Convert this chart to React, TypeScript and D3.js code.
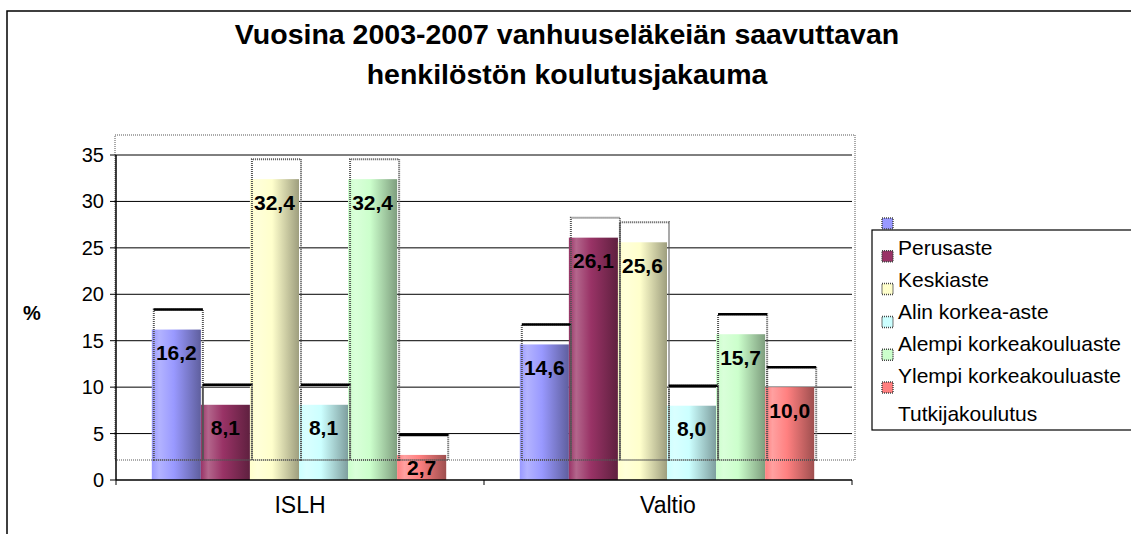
import React from "react";
import * as d3 from "d3";

// chart values
const categories = ["ISLH", "Valtio"];
const seriesNames = [
  "Perusaste",
  "Keskiaste",
  "Alin korkea-aste",
  "Alempi korkeakouluaste",
  "Ylempi korkeakouluaste",
  "Tutkijakoulutus",
];
const islhValues = [16.2, 8.1, 32.4, 8.1, 32.4, 2.7];
const valtioValues = [14.6, 26.1, 25.6, 8.0, 15.7, 10.0];
const seriesColors = ["#9999FF", "#993366", "#FFFFCC", "#CCFFFF", "#CCFFCC", "#FF8080"];
const yTicks = [0, 5, 10, 15, 20, 25, 30, 35];

const titleLines = ["Vuosina 2003-2007 vanhuuseläkeiän saavuttavan", "henkilöstön koulutusjakauma"];
const yAxisTitle = "%";

const W = 1131;
const H = 534;
const FONT = "'Liberation Sans', Arial, Helvetica, sans-serif";

const plot = { left: 116, right: 852, top: 155, bottom: 480 };
// the odd "ghost" frames excel left behind the bars
const ghostDx = 2;
const ghostDy = -20;
const blackTopBelow = 20;

const legend = { x: 872, y: 230, markerX: 882, textX: 898 };

const fmt = (v: number) => v.toFixed(1).replace(".", ",");

export default function App() {
  const valuesByCat: Record<string, number[]> = {
    ISLH: islhValues,
    Valtio: valtioValues,
  };

  const x0 = d3.scaleBand().domain(categories).range([plot.left, plot.right]).padding(0);
  const x1 = d3
    .scaleBand()
    .domain(seriesNames)
    .range([0, x0.bandwidth()])
    .paddingInner(0)
    .paddingOuter(0.75);
  const y = d3.scaleLinear().domain([0, 35]).range([plot.bottom, plot.top]);

  const bars = categories.flatMap((cat) =>
    valuesByCat[cat].map((v, i) => ({
      cat,
      name: seriesNames[i],
      i,
      v,
      x: (x0(cat) as number) + (x1(seriesNames[i]) as number) - 1,
      w: x1.bandwidth(),
      top: y(v),
    }))
  );

  const labelY = (top: number) => {
    const h = plot.bottom - top;
    const c = h < 46 ? (top + plot.bottom) / 2 : top + 23;
    return c + 7.5;
  };

  return (
    <svg
      width={W}
      height={H}
      style={{ position: "absolute", left: 0, top: 0, display: "block", background: "#fff" }}
      fontFamily={FONT}
    >
      <defs>
        {seriesColors.map((c, i) => {
          const light = d3.interpolateRgb(c, "#fff")(0.25);
          const dark = d3.interpolateRgb(c, "#000")(0.38);
          return (
            <linearGradient key={i} id={`grad${i}`} x1="0" x2="1" y1="0" y2="0">
              <stop offset="0%" stopColor={c} />
              <stop offset="15%" stopColor={light} />
              <stop offset="45%" stopColor={c} />
              <stop offset="100%" stopColor={dark} />
            </linearGradient>
          );
        })}
      </defs>

      {/* chart border */}
      <rect x={7} y={11} width={W} height={H} fill="none" stroke="#000" strokeWidth={1.5} />

      {/* title */}
      {titleLines.map((t, i) => (
        <text
          key={i}
          x={567}
          y={44 + i * 40}
          textAnchor="middle"
          fontSize={28.5}
          fontWeight="bold"
          fill="#000"
        >
          {t}
        </text>
      ))}

      {/* gridlines */}
      {yTicks
        .filter((t) => t > 0)
        .map((t) => (
          <line key={t} x1={plot.left} x2={plot.right} y1={y(t)} y2={y(t)} stroke="#000" strokeWidth={1} />
        ))}

      {/* ghost plot frame */}
      <rect
        x={plot.left - 1}
        y={plot.top + ghostDy}
        width={plot.right - plot.left + 4}
        height={plot.bottom - plot.top}
        fill="none"
        stroke="#aaa"
        strokeWidth={2}
        strokeDasharray="1,1"
      />

      {/* bars */}
      {bars.map((b) => (
        <rect
          key={b.cat + b.name}
          x={b.x}
          y={b.top}
          width={b.w}
          height={plot.bottom - b.top}
          fill={`url(#grad${b.i})`}
        />
      ))}

      {/* ghost bar frames */}
      {bars.map((b) => {
        const gx = b.x + ghostDx;
        const gt = b.top + ghostDy;
        const gb = plot.bottom + ghostDy;
        return (
          <g key={"g" + b.cat + b.name}>
            <path
              d={`M${gx},${gb}V${gt}H${gx + b.w}V${gb}Z`}
              fill="none"
              stroke="#555"
              strokeWidth={2}
              strokeDasharray="1,1"
            />
            {b.v < blackTopBelow && (
              <line x1={gx} x2={gx + b.w} y1={gt} y2={gt} stroke="#000" strokeWidth={2.5} />
            )}
          </g>
        );
      })}

      {/* axes */}
      <line x1={plot.left} x2={plot.left} y1={plot.top} y2={plot.bottom} stroke="#000" strokeWidth={1.5} />
      <line x1={plot.left} x2={plot.right} y1={plot.bottom} y2={plot.bottom} stroke="#000" strokeWidth={1.5} />
      {yTicks.map((t) => (
        <g key={"yt" + t}>
          <line x1={plot.left - 6} x2={plot.left} y1={y(t)} y2={y(t)} stroke="#000" />
          <text x={104} y={y(t) + 7} textAnchor="end" fontSize={20} fill="#000">
            {t}
          </text>
        </g>
      ))}
      {[plot.left, ...categories.map((c) => (x0(c) as number) + x0.bandwidth())].map((xx, i) => (
        <line key={"xt" + i} x1={xx} x2={xx} y1={plot.bottom} y2={plot.bottom + 5} stroke="#000" />
      ))}
      {categories.map((c) => (
        <text
          key={"xl" + c}
          x={(x0(c) as number) + x0.bandwidth() / 2}
          y={513}
          textAnchor="middle"
          fontSize={23}
          fill="#000"
        >
          {c}
        </text>
      ))}
      <text x={32} y={320} textAnchor="middle" fontSize={20} fontWeight="bold" fill="#000">
        {yAxisTitle}
      </text>

      {/* data labels */}
      {bars.map((b) => (
        <text
          key={"l" + b.cat + b.name}
          x={b.x + b.w / 2}
          y={labelY(b.top)}
          textAnchor="middle"
          fontSize={21}
          fontWeight="bold"
          fill="#000"
        >
          {fmt(b.v)}
        </text>
      ))}

      {/* legend */}
      <rect x={legend.x} y={legend.y} width={300} height={200} fill="#fff" stroke="#000" strokeWidth={1.2} />
      {seriesNames.map((n, i) => (
        <g key={"lg" + n}>
          <rect
            x={legend.markerX}
            y={218 + i * 32.8}
            width={11}
            height={11}
            fill={seriesColors[i]}
            stroke="#444"
            strokeWidth={1.5}
            strokeDasharray="1,1"
          />
          <text
            x={legend.textX}
            y={255 + i * 32 + (i === seriesNames.length - 1 ? 6 : 0)}
            fontSize={21}
            fill="#000"
          >
            {n}
          </text>
        </g>
      ))}
    </svg>
  );
}
